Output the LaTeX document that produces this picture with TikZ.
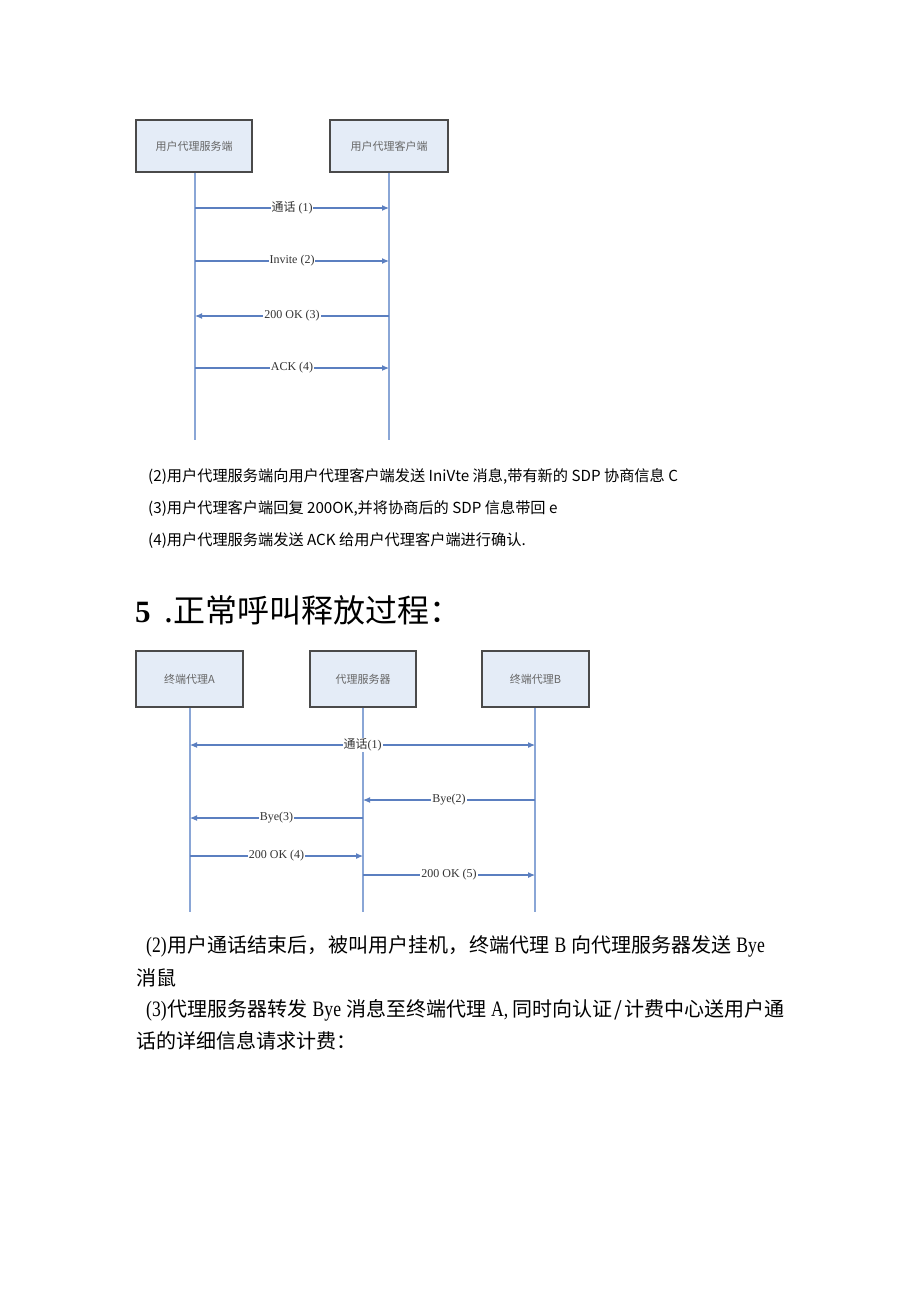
\documentclass[tikz,border=0pt]{standalone}
\usepackage{fontspec}
\setmainfont{Liberation Serif}
\newfontfamily\cjk{Noto Sans CJK SC}
\newfontfamily\narrow[FakeStretch=0.8]{Liberation Serif}
\usetikzlibrary{arrows.meta}
\definecolor{lifeblue}{HTML}{8AA6D6}
\definecolor{arrblue}{HTML}{5B7FC0}
\definecolor{boxfill}{HTML}{E4ECF7}
\definecolor{boxline}{HTML}{4A4A4A}
\newcommand{\nlat}[1]{{\narrow\fontsize{22}{22}\selectfont #1}}
\newcommand{\fcomma}{，\hspace{1pt}}
\tikzset{
  actor/.style={draw=boxline, line width=1.6pt, fill=boxfill, inner sep=0pt,
    font=\cjk\fontsize{11}{13}\selectfont, text=black!60},
  life/.style={draw=lifeblue, line width=1.3pt},
  msg/.style={draw=arrblue, line width=1.1pt, -{Latex[length=7pt,width=6pt]}},
  dmsg/.style={draw=arrblue, line width=1.1pt, {Latex[length=7pt,width=6pt]}-{Latex[length=7pt,width=6pt]}},
  lbl/.style={fill=white, inner sep=1pt, font=\fontsize{12}{14}\selectfont, text=black!80},
  para/.style={anchor=west, inner sep=0pt, font=\cjk\fontsize{15.2}{18}\selectfont},
  parb/.style={anchor=west, inner sep=0pt, font=\cjk\fontsize{20}{22}\selectfont},
}
\begin{document}
\begin{tikzpicture}[x=1pt,y=-1pt]
\useasboundingbox[fill=white] (0,0) rectangle (920,1301);
% ---------- diagram 1 ----------
\node[actor, minimum width=116pt, minimum height=52pt] (srv) at (194,146) {用户代理服务端};
\node[actor, minimum width=118pt, minimum height=52pt] (cli) at (389,146) {用户代理客户端};
\coordinate (srvEnd) at (195,440);
\coordinate (cliEnd) at (389,440);
\draw[life] (srv.south -| srvEnd) -- (srvEnd);
\draw[life] (cli.south) -- (cliEnd);
\coordinate (s1) at (195,208); \coordinate (c1) at (389,208);
\coordinate (s2) at (195,261); \coordinate (c2) at (389,261);
\coordinate (s3) at (195,316); \coordinate (c3) at (389,316);
\coordinate (s4) at (195,368); \coordinate (c4) at (389,368);
\draw[msg] (s1) -- node[lbl] (l1) {{\cjk 通话} (1)} (c1);
\draw[msg] (s2) -- node[lbl] (l2) {Invite (2)} (c2);
\draw[msg] (c3) -- node[lbl] (l3) {200 OK (3)} (s3);
\draw[msg] (s4) -- node[lbl] (l4) {ACK (4)} (c4);
% ---------- text block 1 ----------
\node[para] (p2) at (148,477) {(2)用户代理服务端向用户代理客户端发送 IniVte 消息,带有新的 SDP 协商信息 C};
\node[para] (p3) at (148,509) {(3)用户代理客户端回复 200OK,并将协商后的 SDP 信息带回 e};
\node[para] (p4) at (148,541) {(4)用户代理服务端发送 ACK 给用户代理客户端进行确认.};
% ---------- title ----------
\node[anchor=west, inner sep=0pt] (title) at (135,610)
  {\fontsize{31}{34}\selectfont\bfseries 5\hspace{14pt}\mdseries{\cjk\fontsize{32}{34}\selectfont .正常呼叫释放过程：}};
% ---------- diagram 2 ----------
\node[actor, minimum width=107pt, minimum height=56pt] (ta) at (189.5,679) {终端代理A};
\node[actor, minimum width=106pt, minimum height=56pt] (px) at (363,679) {代理服务器};
\node[actor, minimum width=107pt, minimum height=56pt] (tb) at (535.5,679) {终端代理B};
\coordinate (taEnd) at (190,912);
\coordinate (pxEnd) at (363,912);
\coordinate (tbEnd) at (535,912);
\draw[life] (ta.south -| taEnd) -- (taEnd);
\draw[life] (px.south) -- (pxEnd);
\draw[life] (tb.south -| tbEnd) -- (tbEnd);
\coordinate (a1) at (190,745); \coordinate (b1) at (535,745);
\coordinate (b2) at (535,800); \coordinate (x2) at (363,800);
\coordinate (x3) at (363,818); \coordinate (a3) at (190,818);
\coordinate (a4) at (190,856); \coordinate (x4) at (363,856);
\coordinate (x5) at (363,875); \coordinate (b5) at (535,875);
\draw[dmsg] (a1) -- node[lbl] (m1) {{\cjk 通话}(1)} (b1);
\draw[msg] (b2) -- node[lbl] (m2) {Bye(2)} (x2);
\draw[msg] (x3) -- node[lbl] (m3) {Bye(3)} (a3);
\draw[msg] (a4) -- node[lbl] (m4) {200 OK (4)} (x4);
\draw[msg] (x5) -- node[lbl] (m5) {200 OK (5)} (b5);
% ---------- text block 2 ----------
\node[parb] (q1) at (146,946) {\nlat{(2)}\hspace{1pt}用户通话结束后\fcomma 被叫用户挂机\fcomma 终端代理\hspace{5pt}\nlat{B}\hspace{5pt}向代理服务器发送\hspace{5pt}\nlat{Bye}};
\node[parb] (q2) at (136,978) {消鼠};
\node[parb] (q3) at (146,1010) {\nlat{(3)}\hspace{1pt}代理服务器转发\hspace{5pt}\nlat{Bye}\hspace{5pt}消息至终端代理\hspace{5pt}\nlat{A,}\hspace{4pt}同时向认证\hspace{2pt}/\hspace{2pt}计费中心送用户通};
\node[parb] (q4) at (136,1041) {话的详细信息请求计费：};
\end{tikzpicture}
\end{document}
